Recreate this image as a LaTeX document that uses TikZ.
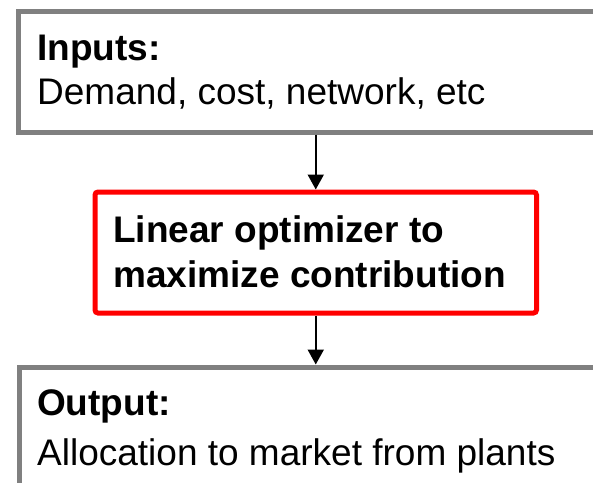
\documentclass[tikz,border=0pt]{standalone}
\usepackage{fontspec}
\setmainfont{Liberation Sans}
\usetikzlibrary{arrows.meta}
\definecolor{boxgray}{HTML}{808080}
\definecolor{boxred}{HTML}{FF0000}
\begin{document}
\begin{tikzpicture}[x=1pt,y=1pt,
  graybox/.style={draw=boxgray, line width=5pt, fill=white, inner sep=0pt, anchor=north west},
  redbox/.style={draw=boxred, line width=5pt, fill=white, inner sep=0pt, anchor=north west, rounded corners=3pt},
  txt/.style={anchor=base west, inner sep=0pt, font=\fontsize{37}{44}\selectfont},
  btxt/.style={anchor=base west, inner sep=0pt, font=\fontsize{37}{44}\selectfont\bfseries},
  flow/.style={line width=2pt, -{Triangle[width=16pt,length=15pt]}}]
\useasboundingbox (0,0) rectangle (593,-482);
\clip (0,0) rectangle (593,-482);
\node[graybox, minimum width=620pt, minimum height=121pt] (inputs) at (15.5,-8.5) {};
\node[redbox, minimum width=441.5pt, minimum height=121pt] (opt) at (92.5,-189.5) {};
\node[graybox, minimum width=620pt, minimum height=200pt] (output) at (16.5,-364.5) {};
\node[btxt] (inlabel) at (37,-60) {Inputs:};
\node[txt] (intext) at (37,-104) {Demand, cost, network, etc};
\node[btxt] (optone) at (113,-242) {Linear optimizer to};
\node[btxt] (opttwo) at (113,-287) {maximize contribution};
\node[btxt] (outlabel) at (37,-415) {Output:};
\node[txt] (outtext) at (37,-465) {Allocation to market from plants};
\draw[flow] (inputs.south -| opt.north) -- (opt.north);
\draw[flow] (opt.south) -- (opt.south |- output.north);
\end{tikzpicture}
\end{document}
